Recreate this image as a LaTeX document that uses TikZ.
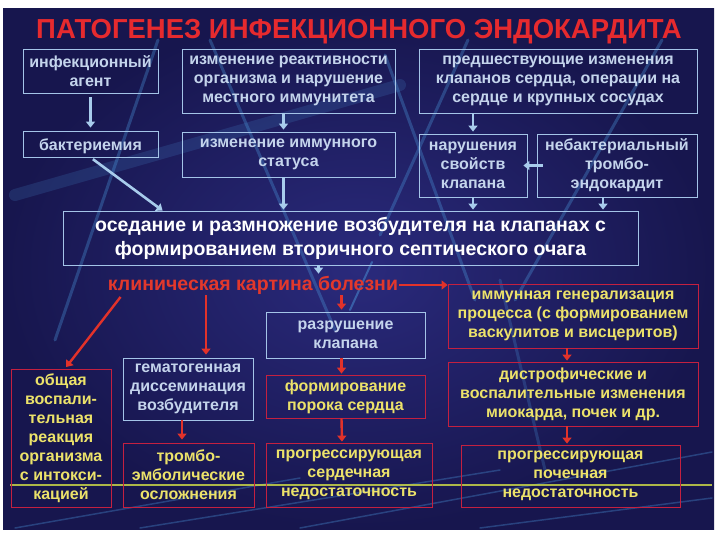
\documentclass[tikz,border=0pt]{standalone}
\usepackage{fontspec}
\setmainfont{Liberation Sans}
\usetikzlibrary{arrows.meta}

\definecolor{bginner}{HTML}{2A2A7C}
\definecolor{bgouter}{HTML}{17164E}
\definecolor{frameblue}{HTML}{A4C4E8}
\definecolor{framered}{HTML}{C42040}
\definecolor{textblue}{HTML}{C4D4EC}
\definecolor{textyellow}{HTML}{ECE26A}
\definecolor{titlered}{HTML}{E62A2E}
\definecolor{clinred}{HTML}{E2382C}
\definecolor{arrowblue}{HTML}{A8CCEC}
\definecolor{arrowred}{HTML}{E2322A}
\definecolor{streakblue}{HTML}{4A94D8}
\definecolor{streakyellow}{HTML}{C8D448}

\newcommand{\boxfont}{\fontsize{16}{19}\selectfont\bfseries}
\newcommand{\settlefont}{\fontsize{19.5}{24}\selectfont\bfseries}
\newcommand{\clinfont}{\fontsize{19.5}{21}\selectfont\bfseries}
\newcommand{\titlefont}{\fontsize{27.5}{28}\selectfont\bfseries}

\begin{document}
\begin{tikzpicture}[
    x=1pt,
    y=-1pt,
    blubox/.style={draw=frameblue, line width=0.8pt, align=center, text=textblue, font=\boxfont, inner sep=0pt, execute at begin node={\rule{0pt}{17pt}}},
    redbox/.style={draw=framered, line width=0.8pt, align=center, text=textyellow, font=\boxfont, inner sep=0pt, execute at begin node={\rule{0pt}{17pt}}},
    bluarr/.style={draw=arrowblue, line width=2.6pt, -{Triangle[length=6pt,width=9pt]}},
    redarr/.style={draw=arrowred, line width=2.4pt, -{Triangle[length=6pt,width=9pt]}},
    streak/.style={draw=streakblue, opacity=0.35, line width=3pt, line cap=round}
]
\useasboundingbox (0,0) rectangle (720,540);
% background
\shade[inner color=bginner, outer color=bgouter] (3,9) rectangle (714,529);
\draw[streak, line width=12pt, opacity=0.18] (15,195) -- (400,85);
\draw[streak] (55,340) -- (158,40);
\draw[streak] (210,40) -- (335,330);
\draw[streak] (385,55) -- (475,300);
\draw[streak] (380,235) -- (468,40);
\draw[streak] (515,300) -- (662,40);
\draw[streak, opacity=0.25] (500,280) -- (545,470);
\draw[streak, opacity=0.5, line width=2pt] (350,310) -- (372,262);
\draw[streak, line width=1.5pt] (15,528) -- (300,478);
\draw[streak, line width=1.5pt] (140,528) -- (500,470);
\draw[streak, line width=1.5pt] (300,528) -- (712,452);
\draw[streak, line width=1.5pt] (480,528) -- (712,498);
\draw[streakyellow, line width=1.2pt, opacity=0.85] (10,485) -- (712,485);

% title
\node[font=\titlefont, text=titlered] (title) at (359,31.5) {ПАТОГЕНЕЗ ИНФЕКЦИОННОГО ЭНДОКАРДИТА};

% upper part
\node[blubox, minimum width=135pt, minimum height=44pt] (agent) at (90.5,71) {инфекционный\\агент};
\node[blubox, minimum width=213pt, minimum height=64pt] (react) at (288.5,81) {изменение реактивности\\организма и нарушение\\местного иммунитета};
\node[blubox, minimum width=278pt, minimum height=64pt] (prior) at (558,81) {предшествующие изменения\\клапанов сердца, операции на\\сердце и крупных сосудах};
\node[blubox, minimum width=135pt, minimum height=26pt] (bact) at (90.5,144) {бактериемия};
\node[blubox, minimum width=213pt, minimum height=45pt] (immst) at (288.5,154.5) {изменение иммунного\\статуса};
\node[blubox, minimum width=108pt, minimum height=63pt] (valdis) at (473,165.5) {нарушения\\свойств\\клапана};
\node[blubox, minimum width=160pt, minimum height=63pt] (nbte) at (617,165.5) {небактериальный\\тромбо-\\эндокардит};
\node[blubox, text=white, font=\settlefont, minimum width=575pt, minimum height=54pt] (settle) at (350.5,238) {оседание и размножение возбудителя на клапанах с\\формированием вторичного септического очага};

% clinical picture
\node[font=\clinfont, text=clinred, inner sep=1pt] (clin) at (253,285) {клиническая картина болезни};
\node[redbox, minimum width=250pt, minimum height=64pt] (immgen) at (573,316) {иммунная генерализация\\процесса (с формированием\\васкулитов и висцеритов)};
\node[blubox, minimum width=159pt, minimum height=46pt] (destr) at (345.5,335) {разрушение\\клапана};
\node[blubox, minimum width=130pt, minimum height=62pt] (hemat) at (188,389) {гематогенная\\диссеминация\\возбудителя};
\node[redbox, minimum width=100pt, minimum height=138pt] (general) at (61,438) {общая\\воспали-\\тельная\\реакция\\организма\\с интокси-\\кацией};
\node[redbox, minimum width=159pt, minimum height=43pt] (defect) at (345.5,396.5) {формирование\\порока сердца};
\node[redbox, minimum width=250pt, minimum height=64pt] (dystr) at (573,394) {дистрофические и\\воспалительные изменения\\миокарда, почек и др.};
\node[redbox, minimum width=131pt, minimum height=64pt] (thromb) at (188.5,475) {тромбо-\\эмболические\\осложнения};
\node[redbox, minimum width=166pt, minimum height=64pt] (heartf) at (349,475) {прогрессирующая\\сердечная\\недостаточность};
\node[redbox, minimum width=219pt, minimum height=62pt] (renal) at (570.5,476) {прогрессирующая\\почечная\\недостаточность};

% blue arrows
\draw[bluarr, shorten <=4pt, shorten >=3pt] (agent.south) -- (bact.north);
\draw[bluarr, shorten >=2pt] ([xshift=-5pt]react.south) -- ([xshift=-5pt]immst.north);
\draw[bluarr, shorten >=2pt] (valdis.north |- prior.south) -- (valdis.north);
\draw[bluarr] ([xshift=6pt]nbte.west) -- ([xshift=-4pt]valdis.east);
\draw[bluarr, shorten >=1pt] (valdis.south) -- (valdis.south |- settle.north);
\draw[bluarr, shorten >=1pt] ([xshift=-14pt]nbte.south) -- ([xshift=-14pt]nbte.south |- settle.north);
\draw[bluarr, shorten <=3pt] (bact.south) -- ([xshift=100pt]settle.north west);
\draw[bluarr, shorten >=1pt] ([xshift=-5pt]immst.south) -- ([xshift=-5pt]immst.south |- settle.north);
\draw[bluarr, shorten >=1pt] ([xshift=-32pt]settle.south) -- ([xshift=-32pt]settle.south |- clin.north);

% red arrows
\draw[redarr] (clin.east) -- (clin.east -| immgen.west);
\draw[redarr, shorten >=2pt] ([xshift=-4pt]destr.north |- clin.south) -- ([xshift=-4pt]destr.north);
\draw[redarr, shorten >=3pt] ([xshift=18pt]hemat.north |- clin.south) -- ([xshift=18pt]hemat.north);
\draw[redarr, shorten <=2pt, shorten >=2pt] ([xshift=15pt]clin.south west) -- ([xshift=4pt]general.north);
\draw[redarr, shorten >=3pt] ([xshift=-6pt]hemat.south) -- ([xshift=-6pt]hemat.south |- thromb.north);
\draw[redarr, shorten >=1pt] ([xshift=-4pt]destr.south) -- ([xshift=-4pt]defect.north);
\draw[redarr, shorten >=1pt] ([xshift=-4pt]defect.south) -- ([xshift=-7pt]heartf.north);
\draw[redarr, shorten >=1pt] ([xshift=-6pt]immgen.south) -- ([xshift=-6pt]dystr.north);
\draw[redarr, shorten >=1pt] ([xshift=-6pt]dystr.south) -- ([xshift=-6pt]dystr.south |- renal.north);
\end{tikzpicture}
\end{document}
